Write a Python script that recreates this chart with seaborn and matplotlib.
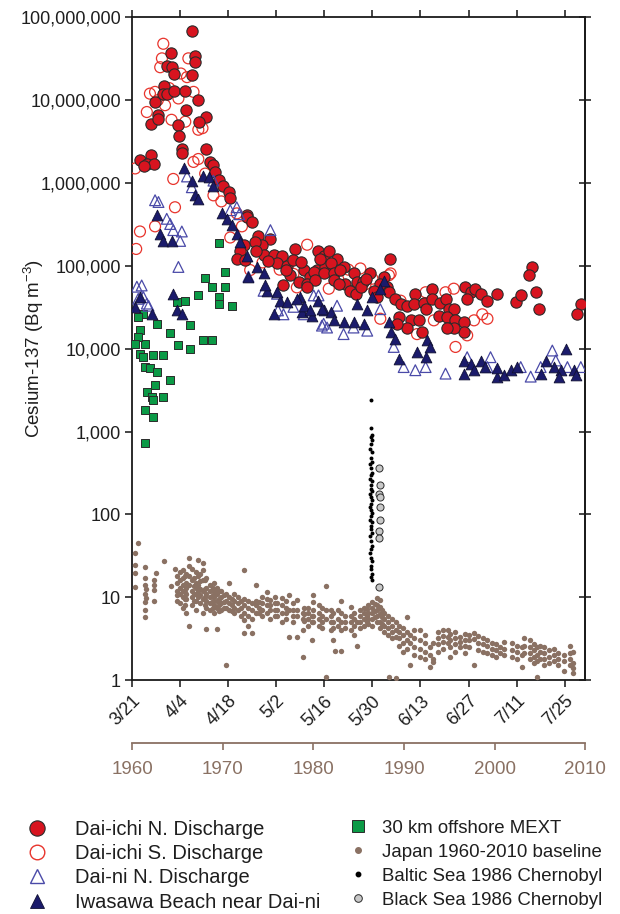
import numpy as np
import matplotlib
matplotlib.use('Agg')
import matplotlib.pyplot as plt
import seaborn as sns
from matplotlib.lines import Line2D
from matplotlib.ticker import FuncFormatter, NullLocator

sns.set_theme(style='ticks')
plt.rcParams['font.family'] = ['Liberation Sans', 'DejaVu Sans']
plt.rcParams['mathtext.default'] = 'regular'

# ---- axis labels / ticks ----
date_ticks = [0, 14, 28, 42, 56, 70, 84, 98, 112, 126]   # days after 3/21
date_labels = ['3/21', '4/4', '4/18', '5/2', '5/16', '5/30', '6/13', '6/27', '7/11', '7/25']
year_ticks = [1960, 1970, 1980, 1990, 2000, 2010]
bq_ticks = [1, 10, 100, 1e3, 1e4, 1e5, 1e6, 1e7, 1e8]

# ---- Dai-ichi N. discharge (day, Bq/m3) ----
daiichi_n_day = [17.4, 11.3, 18.4, 18.4, 10.3, 11.6, 12.3, 17.6, 9.4, 9.1, 10.1, 12.3, 15.5, 6.7, 19.3,
                 15.6, 7.7, 5.4, 7.7, 21.6, 19.5, 13.5, 13.7, 14.5, 14.5, 21.6, 2.3, 5.4, 4.3, 6.5,
                 22.8, 23.7, 24.2, 25.2, 26.6, 28.1, 28.6, 33.5, 33.5, 34.9, 36.8, 40.3, 37.8, 35.9,
                 32.5, 31.5, 30.5, 33.0, 38.3, 41.2, 43.7, 42.2, 45.1, 47.5, 47.0, 50.0, 51.9, 54.3,
                 55.8, 53.9, 56.3, 46.1, 48.5, 51.0, 44.1, 57.3, 54.8, 59.7, 57.8, 52.9, 55.8, 58.7,
                 61.6, 53.4, 58.7, 51.0, 75.2, 64.5, 69.4, 65.5, 67.4, 62.1, 63.6, 65.1, 73.3, 74.3,
                 72.3, 74.8, 76.7, 78.2, 80.1, 82.5, 82.1, 84.9, 87.4, 87.4, 85.5, 89.8, 91.3, 92.3,
                 93.7, 89.3, 91.8, 94.2, 96.6, 96.6, 93.7, 91.8, 84.5, 81.1, 83.5, 80.1, 77.7, 77.2,
                 97.1, 98.6, 100.0, 101.5, 97.6, 103.5, 106.4, 111.7, 113.2, 116.6, 115.6, 117.6,
                 118.5, 130.7, 129.5, 3.6, 60.5, 66.8, 70.5, 71.2, 39.5, 44.8, 49.2, 36.0, 60.2, 68.2]
daiichi_n_bq = [6.9e7, 3.7e7, 3.4e7, 2.9e7, 2.6e7, 2.5e7, 2.1e7, 2.0e7, 1.5e7, 1.2e7, 1.2e7, 1.3e7, 1.3e7, 9.6e6, 1.0e7,
                7.6e6, 6.6e6, 5.1e6, 5.9e6, 6.3e6, 5.5e6, 5.0e6, 3.7e6, 2.6e6, 2.3e6, 2.6e6, 1.9e6, 2.2e6, 1.7e6, 1.7e6,
                1.8e6, 1.65e6, 1.35e6, 1.1e6, 9.3e5, 7.8e5, 6.6e5, 4.1e5, 3.9e5, 3.4e5, 2.3e5, 2.1e5, 1.8e5, 1.95e5,
                1.8e5, 1.5e5, 1.2e5, 1.17e5, 1.35e5, 1.35e5, 1.3e5, 1.07e5, 1.0e5, 1.6e5, 1.17e5, 8.9e4, 7.4e4, 1.5e5,
                1.3e5, 8.9e4, 9.8e4, 7.7e4, 6.4e4, 6.1e4, 5.9e4, 1.5e5, 1.2e5, 1.2e5, 1.07e5, 8.5e4, 8.1e4, 8.1e4,
                9.8e4, 6.7e4, 6.7e4, 5.5e4, 1.22e5, 8.1e4, 8.1e4, 6.4e4, 6.4e4, 6.1e4, 5.0e4, 4.6e4, 7.4e4, 5.5e4,
                6.1e4, 4.8e4, 4.0e4, 3.5e4, 3.3e4, 4.6e4, 3.5e4, 3.6e4, 5.2e4, 4.0e4, 3.0e4, 3.6e4, 4.0e4, 3.0e4,
                3.0e4, 2.5e4, 2.4e4, 2.2e4, 2.1e4, 1.6e4, 1.8e4, 1.8e4, 1.6e4, 2.2e4, 2.2e4, 1.8e4, 2.4e4, 2.0e4,
                5.5e4, 4.8e4, 5.3e4, 4.6e4, 4.0e4, 3.8e4, 4.6e4, 3.7e4, 4.4e4, 9.7e4, 7.7e4, 4.8e4,
                3.0e4, 3.5e4, 2.6e4, 1.6e6, 9.0e4, 5.6e4, 5.0e4, 4.2e4, 1.15e5, 9.0e4, 1.1e5, 1.5e5, 6.0e4, 7.0e4]

# ---- Dai-ichi S. discharge ----
daiichi_s_day = [9.1, 8.7, 8.2, 6.7, 5.2, 4.3, 16.0, 17.9, 13.5, 9.6, 15.5, 19.3, 17.9, 19.3, 21.3, 12.0,
                 12.5, 0.9, 16.4, 2.3, 1.2, 20.5, 23.7, 28.6, 30.5, 34.4, 48.0, 51.0, 66.5, 75.3, 57.3,
                 72.3, 83.0, 94.2, 97.6, 99.6, 103.5, 102.0, 93.7, 91.3, 85.5, 87.9, 64.5, 74.8, 78.2,
                 6.7, 38.0, 43.0, 47.0, 55.0, 60.0, 63.0, 68.0, 70.0, 10.8, 14.2, 7.5, 11.5, 26.0, 32.0]
daiichi_s_bq = [4.8e7, 3.2e7, 2.5e7, 1.26e7, 1.2e7, 7.2e6, 1.9e7, 1.26e7, 1.05e7, 8.7e6, 5.5e6, 4.4e6, 1.8e6, 1.95e6, 1.3e6, 1.12e6,
                5.1e5, 1.5e6, 3.2e7, 2.6e5, 1.6e5, 4.6e6, 7.1e5, 2.2e5, 4.3e5, 8.9e4, 5.5e4, 1.8e5, 9.3e4, 8.1e4, 5.3e4,
                2.3e4, 1.5e4, 1.05e4, 1.45e4, 2.2e4, 2.3e4, 2.6e4, 5.3e4, 4.8e4, 4.8e4, 2.2e4, 5.0e4, 7.7e4, 3.8e4,
                3.0e5, 1.1e5, 9.0e4, 8.0e4, 1.3e5, 7.0e4, 9.0e4, 6.0e4, 7.0e4, 1.4e7, 2.1e7, 1.0e7, 5.8e6, 6.0e5, 3.0e5]

# ---- Dai-ni N. discharge ----
daini_day = [1.4, 2.8, 1.8, 4.3, 6.7, 7.7, 10.1, 11.1, 12.0, 14.5, 14.0, 13.5, 16.0, 17.4, 23.7, 28.6,
             30.5, 40.3, 38.3, 42.2, 47.0, 52.9, 55.8, 56.8, 61.6, 64.5, 68.5, 59.7, 72.3, 76.2, 79.1,
             82.5, 85.5, 91.3, 97.6, 104.4, 103.5, 113.2, 116.1, 122.4, 123.4, 126.8, 130.7, 119.0, 3.3,
             4.8, 42.5, 44.1, 50.0, 54.3, 55.3, 33.9, 31.2]
daini_bq = [5.6e4, 5.8e4, 4.0e4, 3.5e4, 6.2e5, 5.9e5, 3.7e5, 3.2e5, 2.7e5, 2.6e5, 2.0e5, 9.7e4, 1.2e6, 8.9e5, 1.07e6, 4.7e5,
            5.1e5, 2.7e5, 5.0e4, 4.6e4, 3.2e4, 4.4e4, 2.0e4, 1.8e4, 1.5e4, 1.8e4, 1.65e4, 3.3e4, 3.0e4, 1.05e4, 6.0e3,
            5.5e3, 6.0e3, 5.0e3, 7.9e3, 7.9e3, 6.0e3, 6.0e3, 4.6e3, 9.5e3, 7.2e3, 6.0e3, 6.0e3, 6.0e3, 4.2e4,
            3.3e4, 2.9e4, 2.6e4, 2.6e4, 4.4e4, 1.9e4, 7.4e4, 4.2e5]

# ---- Iwasawa Beach near Dai-ni ----
iwasawa_day = [0.9, 5.7, 7.2, 8.2, 9.1, 11.6, 15.0, 17.4, 18.4, 19.3, 20.8, 22.3, 23.7, 26.2, 27.6, 29.1,
               30.5, 31.5, 33.5, 33.9, 36.4, 38.3, 41.2, 39.3, 43.2, 49.0, 49.5, 12.0, 13.0, 14.5, 2.3,
               38.8, 42.2, 45.1, 48.0, 52.4, 55.8, 50.0, 51.9, 54.3, 55.3, 57.8, 58.7, 61.6, 64.5, 67.5,
               65.5, 68.4, 69.9, 73.3, 72.3, 74.8, 75.3, 76.7, 77.7, 83.0, 85.5, 86.0, 86.9, 96.6, 98.6,
               101.5, 102.9, 106.4, 108.3, 110.3, 112.2, 106.4, 120.5, 122.9, 124.9, 126.3, 128.7, 129.2,
               124.4, 119.0, 96.6, 99.6]
iwasawa_bq = [3.2e4, 2.6e4, 4.1e5, 2.4e5, 2.0e5, 2.0e5, 1.5e6, 1.07e6, 7.1e5, 6.5e5, 1.23e6, 1.17e6, 9.3e5, 4.3e5, 3.7e5, 3.1e5,
              2.4e5, 1.95e5, 1.3e5, 7.4e4, 9.8e4, 8.1e4, 2.6e4, 5.0e4, 3.8e4, 4.2e4, 2.8e4, 4.6e4, 2.9e4, 2.6e4, 4.2e4,
              5.9e4, 4.9e4, 3.7e4, 4.0e4, 2.5e4, 2.9e4, 3.3e4, 2.9e4, 3.8e4, 3.0e4, 2.75e4, 2.2e4, 2.1e4, 2.1e4, 2.0e4,
              3.5e4, 2.9e4, 4.2e4, 6.6e4, 5.2e4, 2.1e4, 1.6e4, 1.3e4, 7.6e3, 9.1e3, 7.9e3, 1.26e4, 1.05e4, 7.2e3, 6.6e3,
              7.2e3, 6.0e3, 4.6e3, 4.8e3, 5.5e3, 6.0e3, 5.8e3, 7.2e3, 6.0e3, 5.5e3, 1.0e4, 5.5e3, 4.8e3,
              4.6e3, 5.0e3, 5.0e3, 5.5e3]

# ---- 30 km offshore MEXT ----
mext_day = [25.2, 27.1, 21.3, 23.2, 27.1, 25.2, 25.2, 29.1, 19.3, 15.5, 13.0, 16.9, 11.1, 13.5, 16.9, 20.8,
            23.2, 11.1, 9.1, 7.2, 3.3, 1.8, 2.3, 3.8, 2.3, 6.2, 9.1, 3.8, 5.2, 7.2, 6.7, 4.3, 5.7, 6.2,
            3.8, 6.2, 3.8, 1.8, 3.3, 0.9]
mext_bq = [1.9e5, 8.5e4, 7.2e4, 5.5e4, 5.5e4, 4.2e4, 3.5e4, 3.3e4, 4.4e4, 3.8e4, 3.7e4, 1.95e4, 1.55e4, 1.1e4, 1.0e4, 1.26e4,
           1.26e4, 4.2e3, 2.6e3, 2.0e4, 2.6e4, 2.4e4, 1.66e4, 1.15e4, 8.7e3, 8.5e3, 8.5e3, 6.0e3, 5.8e3, 5.2e3, 3.6e3, 3.0e3, 2.6e3, 2.4e3,
           1.8e3, 1.5e3, 7.2e2, 1.4e4, 7.9e3, 1.15e4]

# ---- Japan 1960-2010 baseline (year groups, Bq/m3) ----
japan_years = [1960.3, 1960.7, 1961.4, 1961.5, 1962.4, 1962.6, 1963.5, 1964.3, 1964.7, 1965.0, 1965.3,
               1965.6, 1966.0, 1966.3, 1966.6, 1967.0, 1967.3, 1967.8, 1968.2, 1968.6, 1969.0, 1969.4,
               1969.8, 1970.4, 1970.7, 1971.2, 1971.7, 1972.3, 1972.8, 1973.2, 1973.7, 1974.3, 1974.9,
               1975.2, 1975.8, 1976.5, 1977.0, 1977.3, 1977.8, 1978.2, 1978.9, 1979.4, 1979.8, 1980.0,
               1980.6, 1981.0, 1981.4, 1981.9, 1982.2, 1982.4, 1982.7, 1983.0, 1983.1, 1983.5, 1984.1,
               1984.5, 1984.8, 1985.2, 1985.6, 1986.0, 1986.5, 1987.0, 1987.4, 1987.8, 1988.2, 1988.4,
               1988.7, 1989.1, 1989.5, 1989.9, 1990.3, 1990.7, 1991.1, 1991.8, 1992.3, 1992.9, 1993.2,
               1993.8, 1994.3, 1994.8, 1995.1, 1995.6, 1996.2, 1996.7, 1997.2, 1997.7, 1998.2, 1998.7,
               1999.2, 1999.7, 2000.2, 2000.6, 2001.0, 2001.9, 2002.5, 2003.0, 2003.2, 2003.9, 2004.3,
               2004.7, 2005.0, 2005.4, 2006.0, 2006.5, 2007.0, 2007.6, 2008.3, 2008.7,
               1965.8, 1966.8, 1967.5, 1968.0, 1968.9, 1969.6, 1970.1, 1971.0, 1972.0, 1974.0, 1976.0,
               1979.0, 1985.9, 1986.8, 1987.6]
japan_bq = [[34, 24.5, 19.4, 13.4], [45], [23, 17, 14, 11, 8.8, 7.0, 5.7], [9.8, 12.5], [16, 12.2, 9.1, 14],
            [19.5], [27], [13.6], [22], [18, 15, 12, 10.5, 9], [20, 16, 13, 11, 8.5],
            [21, 17, 14, 12, 10, 7.5], [19, 15, 13, 11, 9.5, 6.5], [30, 24, 18, 14, 4.5], [22, 16, 12, 10, 8],
            [20, 15, 13, 11, 9, 7], [28, 18, 14, 12, 10], [26, 21, 16, 12, 9.5, 6.5], [17, 13, 11, 9, 7.5, 4.1],
            [14, 12, 10, 8.5, 7], [15, 12, 10, 8, 6.5], [13, 11, 9, 7.5, 4.1],
            [12, 10, 8.5, 7], [1.5, 11, 9, 7.5], [14.7, 10, 8.5, 7], [11, 9, 7.5, 6.5], [10, 8.5, 7],
            [21, 9.5, 8, 6.5, 5.3, 3.7], [9, 7.5, 6, 4.5], [8.5, 7, 5.5, 3.7], [14, 9, 8, 6.5], [10, 8.5, 7, 6],
            [11.6, 9.5, 8, 6.5], [9.2, 8, 7, 5.5], [10, 8.5, 7, 6], [9.7, 8, 6.5, 5], [9, 7.5, 6.5, 5.5],
            [10.6, 7, 3.3], [8.5, 7, 6, 5], [9.2, 7, 6, 3.3], [6.4, 5.5, 4.0, 1.9], [7.5, 6.5, 5.5, 4.5],
            [3.0, 6, 5], [10.6, 8.8, 7, 6, 5], [8, 6.5, 5.5, 4.5], [7.5, 6, 5, 4.2], [13.6, 7, 5.5, 1.1],
            [7, 6, 5, 4], [6.5, 5, 4.2, 3.0], [2.25], [7, 5.5, 4.5], [9.1, 6.5, 5, 4], [2.25], [6, 5, 4.2],
            [7.6, 6, 5, 4], [6.5, 5.5, 4.5, 3.5], [2.6, 5], [7, 6, 5, 4.2], [7.5, 6.5, 5.5, 4.5],
            [8, 6.5, 5.5, 4.8], [8.8, 7.5, 6.5, 5.5, 4.5], [9.7, 8, 7, 6, 5], [9.2, 7.6, 6.2, 5, 4.2],
            [6.5, 5.5, 4.5, 3.8], [6, 5, 4.2, 3.5], [1.1], [5.5, 4.5, 3.8, 3.2], [1.05, 5, 4, 3.3],
            [4.5, 3.8, 3.2, 2.6], [4.2, 3.5, 2.8, 2.2], [5.8, 3.8, 3, 2.4], [1.5, 3.5, 2.8], [4, 3.2, 2.5, 2.0],
            [4.0, 3, 2.4, 1.9], [3.5, 2.8, 2.2, 1.8], [1.45, 2.5, 2.0], [1.8, 1.65, 2.8],
            [3.8, 3.2, 2.7, 2.2], [4.0, 3.4, 2.9, 2.4], [4.0, 3.3, 2.8], [1.9, 3.6, 3.0, 2.5], [3.8, 3.2, 2.7, 2.2],
            [3.3, 2.9, 2.5], [3.6, 3.0, 2.6, 2.1], [3.5, 3.0, 2.5], [3.7, 3.1, 1.5], [3.4, 2.8, 2.3],
            [3.2, 2.7, 2.2], [3.0, 2.6, 2.1], [2.8, 2.4, 2.0], [2.7, 2.3, 1.9], [2.5, 2.1], [2.9, 2.4, 2.0],
            [2.8, 2.3, 1.9], [2.6, 2.2, 1.8], [1.45, 2.5, 2.0], [3.2, 2.6, 2.1], [3.0, 2.5, 2.1, 1.8],
            [2.7, 2.3, 1.9, 1.6], [1.1, 2.5, 2.0, 1.7], [2.6, 2.2, 1.8], [2.5, 2.1, 1.8, 1.5], [2.3, 1.9, 1.6],
            [2.4, 2.0, 1.7], [2.1, 1.8, 1.5], [1.3, 2.0, 1.7], [2.6, 2.1, 1.8, 1.5], [1.2, 2.2, 1.6, 1.4],
            [18, 14, 11.5, 9.5, 8], [17, 13.5, 11, 9], [19, 15.5, 12.5, 10.5, 8.5], [16, 12.5, 10, 8],
            [13, 10.5, 9, 7.5], [12, 9.5, 8, 6.8], [10.5, 8.8, 7.5], [9.5, 8, 6.8], [9, 7.5, 6],
            [8.8, 7.5, 6.5], [8.5, 7, 6], [7.5, 6.2, 5.2], [7.2, 6, 5], [8.2, 6.8, 5.8], [7, 5.8, 4.8]]

# ---- Baltic Sea 1986 Chernobyl ----
baltic_year = [1986.4, 1986.4, 1986.5, 1986.4, 1986.5, 1986.4, 1986.3, 1986.5, 1986.4, 1986.5, 1986.3,
               1986.4, 1986.5, 1986.4, 1986.3, 1986.5, 1986.4, 1986.4, 1986.5, 1986.3, 1986.4, 1986.5,
               1986.4, 1986.3, 1986.4, 1986.5, 1986.4, 1986.3, 1986.5, 1986.4, 1986.4, 1986.5, 1986.3,
               1986.4, 1986.5, 1986.4, 1986.3, 1986.4, 1986.5, 1986.4, 1986.4, 1986.5, 1986.4, 1986.5]
baltic_bq = [2400, 1100, 920, 850, 780, 700, 610, 560, 480, 430, 400, 360, 320, 300, 270, 250, 225, 205, 190,
             175, 160, 148, 135, 122, 112, 104, 95, 86, 80, 72, 66, 60, 55, 48, 42, 38, 34, 30, 27, 24,
             22, 19, 17.5, 16]

# ---- Black Sea 1986 Chernobyl ----
black_year = [1987.2, 1987.3, 1987.2, 1987.3, 1987.3, 1987.3, 1987.2, 1987.2, 1987.2]
black_bq = [365, 229, 174, 162, 121, 85, 63, 52, 13.4]

red = '#d7141f'
red_open = '#e8342c'
navy = '#1b1b6b'
tri_open = '#4a4aa8'
green = '#0b9a46'
brown = '#8a7163'
edge = '#2b2b2b'
txt = '#1e1e1e'

fig = plt.figure(figsize=(6.2, 9.14), dpi=100)
ax = fig.add_axes([0.213, 0.256, 0.731, 0.725])
ax.set_yscale('log')

sns.scatterplot(x=daiichi_s_day, y=daiichi_s_bq, ax=ax, marker='o', s=62,
                facecolor='none', edgecolor=red_open, linewidth=0.9, legend=False, zorder=3)
sns.scatterplot(x=daiichi_n_day, y=daiichi_n_bq, ax=ax, marker='o', s=66, color=red,
                edgecolor=edge, linewidth=0.8, legend=False, zorder=4)
sns.scatterplot(x=mext_day, y=mext_bq, ax=ax, marker='s', s=40, color=green,
                edgecolor=edge, linewidth=0.7, legend=False, zorder=5)
sns.scatterplot(x=daini_day, y=daini_bq, ax=ax, marker='^', s=60,
                facecolor='none', edgecolor=tri_open, linewidth=0.9, legend=False, zorder=6)
sns.scatterplot(x=iwasawa_day, y=iwasawa_bq, ax=ax, marker='^', s=60, color=navy,
                edgecolor='#111133', linewidth=0.6, legend=False, zorder=7)

ax.set_xlim(0, 132)
ax.set_ylim(1, 1e8)
ax.set_xticks(date_ticks)
ax.set_xticklabels(date_labels, rotation=45, ha='right', rotation_mode='anchor')
ax.set_yticks(bq_ticks)
ax.yaxis.set_major_formatter(FuncFormatter(lambda v, p: f'{v:,.0f}'))
ax.yaxis.set_minor_locator(NullLocator())
ax.set_ylabel('Cesium-137 (Bq m$^{-3}$)', fontsize=13.5, color=txt)
ax.yaxis.set_label_coords(-0.19, 0.5)
ax.set_xlabel('')

# second x axis for the historical data (years)
ax2 = ax.twiny()
jy, jb = [], []
for yr, vals in zip(japan_years, japan_bq):
    for v in vals:
        jy.append(yr)
        jb.append(v)
sns.scatterplot(x=jy, y=jb, ax=ax2, marker='o', s=15, color=brown, linewidth=0,
                legend=False, zorder=2)
sns.scatterplot(x=baltic_year, y=baltic_bq, ax=ax2, marker='o', s=8, color='black',
                linewidth=0, legend=False, zorder=3)
sns.scatterplot(x=black_year, y=black_bq, ax=ax2, marker='o', s=26, color='#c8c8c8',
                edgecolor=edge, linewidth=0.7, legend=False, zorder=4)
ax2.set_xlim(1960, 2010)
ax2.set_xticks(year_ticks)
ax2.set_xlabel('')
ax2.xaxis.set_ticks_position('bottom')
ax2.xaxis.set_label_position('bottom')
for side in ['top', 'left', 'right']:
    ax2.spines[side].set_visible(False)
ax2.spines['bottom'].set_position(('outward', 45))
ax2.spines['bottom'].set_color(brown)
ax2.spines['bottom'].set_linewidth(1.3)
ax2.tick_params(axis='x', colors=brown, labelcolor=brown, labelsize=13.5, direction='out',
                length=5, width=1.2, pad=8)

# main axis styling
for side in ['left', 'right', 'top', 'bottom']:
    ax.spines[side].set_visible(True)
    ax.spines[side].set_color('#1a1a1a')
    ax.spines[side].set_linewidth(1.3)
ax.tick_params(axis='x', bottom=True, top=True, labeltop=False, direction='out',
               length=5, width=1.2, labelsize=13, labelcolor=txt, pad=4)
ax.tick_params(axis='y', left=True, right=False, direction='out', length=5, width=1.2,
               labelsize=13, labelcolor=txt, pad=3)
rax = ax.secondary_yaxis('right')
rax.set_yticks(bq_ticks)
rax.yaxis.set_minor_locator(NullLocator())
rax.tick_params(axis='y', direction='inout', length=9, width=1.2, labelright=False)
rax.spines['right'].set_linewidth(1.3)
rax.spines['right'].set_color('#1a1a1a')

# legends
h_left = [
    Line2D([], [], ls='', marker='o', markersize=11, markerfacecolor=red, markeredgecolor=edge, markeredgewidth=0.8),
    Line2D([], [], ls='', marker='o', markersize=10.5, markerfacecolor='none', markeredgecolor=red_open, markeredgewidth=1.0),
    Line2D([], [], ls='', marker='^', markersize=10, markerfacecolor='none', markeredgecolor=tri_open, markeredgewidth=1.0),
    Line2D([], [], ls='', marker='^', markersize=10, markerfacecolor=navy, markeredgecolor='#111133', markeredgewidth=0.6),
]
l_left = ['Dai-ichi N. Discharge', 'Dai-ichi S. Discharge', 'Dai-ni N. Discharge', 'Iwasawa Beach near Dai-ni']
h_right = [
    Line2D([], [], ls='', marker='s', markersize=9, markerfacecolor=green, markeredgecolor=edge, markeredgewidth=0.7),
    Line2D([], [], ls='', marker='o', markersize=4.0, markerfacecolor=brown, markeredgecolor=brown),
    Line2D([], [], ls='', marker='o', markersize=3.2, markerfacecolor='black', markeredgecolor='black'),
    Line2D([], [], ls='', marker='o', markersize=5.5, markerfacecolor='#c8c8c8', markeredgecolor=edge, markeredgewidth=0.7),
]
l_right = ['30 km offshore MEXT', 'Japan 1960-2010 baseline', 'Baltic Sea 1986 Chernobyl', 'Black Sea 1986 Chernobyl']

leg1 = fig.legend(h_left, l_left, loc='upper left', bbox_to_anchor=(0.035, 0.103), frameon=False,
                  fontsize=14.5, handlelength=1.5, handletextpad=1.15, labelspacing=0.26, borderpad=0,
                  borderaxespad=0, labelcolor=txt)
leg2 = fig.legend(h_right, l_right, loc='upper left', bbox_to_anchor=(0.555, 0.103), frameon=False,
                  fontsize=13.4, handlelength=1.5, handletextpad=0.55, labelspacing=0.37, borderpad=0,
                  borderaxespad=0, labelcolor=txt)

fig.savefig('out.png', dpi=100)
